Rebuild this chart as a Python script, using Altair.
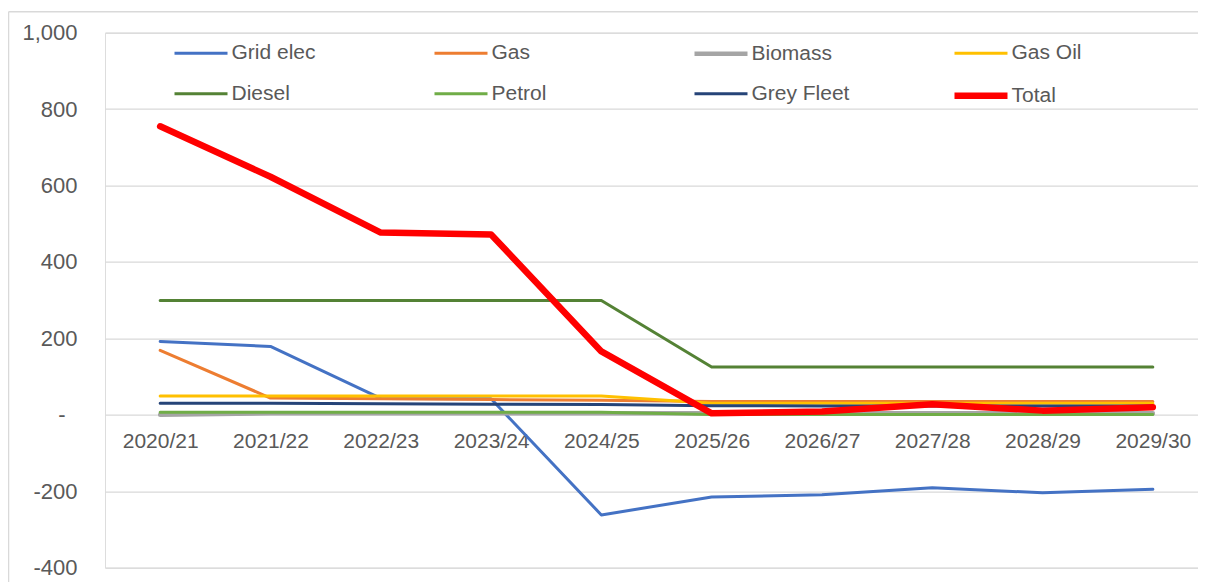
import altair as alt
import pandas as pd

years = ["2020/21", "2021/22", "2022/23", "2023/24", "2024/25",
         "2025/26", "2026/27", "2027/28", "2028/29", "2029/30"]

grid_elec = [192, 179, 43, 42, -262, -215, -209, -191, -204, -195]
gas = [169, 44, 42, 40, 38, 35, 35, 35, 35, 35]
biomass = [0, 4, 4, 4, 4, 4, 4, 4, 4, 4]
gas_oil = [49, 49, 49, 49, 49, 30, 30, 30, 30, 30]
diesel = [299, 299, 299, 299, 299, 125, 125, 125, 125, 125]
petrol = [7, 7, 7, 7, 7, 1, 1, 1, 1, 1]
grey_fleet = [30, 30, 29, 28, 27, 24, 23, 23, 23, 23]
total = [755, 623, 477, 472, 166, 4, 9, 28, 11, 20]

series_names = ["Grid elec", "Gas", "Biomass", "Gas Oil",
                "Diesel", "Petrol", "Grey Fleet", "Total"]
series_values = [grid_elec, gas, biomass, gas_oil, diesel, petrol, grey_fleet, total]
series_colors = ["#4472C4", "#ED7D31", "#A5A5A5", "#FFC000",
                 "#548235", "#70AD47", "#264478", "#FF0000"]
series_widths = [3, 3, 4.5, 3, 3, 3, 3, 6.5]

rows = []
for name, vals in zip(series_names, series_values):
    for y, v in zip(years, vals):
        rows.append({"year": y, "series": name, "value": v})
df = pd.DataFrame(rows)

FONT = "Liberation Sans"
TXT = "#595959"
GRID = "#D9D9D9"


def legend():
    return alt.Legend(title=None, orient="none", legendX=66, legendY=-10,
                      columns=4, direction="horizontal",
                      symbolType="stroke", symbolSize=2809,
                      labelFontSize=21, labelColor=TXT, labelFont=FONT,
                      labelOffset=0.5, columnPadding=91, rowPadding=-8,
                      gridAlign="all", padding=0)


lines = alt.Chart(df).mark_line(strokeCap="round", strokeJoin="round").encode(
    x=alt.X("year:N", sort=years,
            scale=alt.Scale(type="point", padding=0.5, range=[0, 1103]),
            axis=alt.Axis(title=None, domain=False, ticks=False, tickSize=0,
                          grid=False, labelAngle=0, labelFontSize=21,
                          labelColor=TXT, labelFont=FONT,
                          labelBaseline="alphabetic", labelPadding=33,
                          offset=-153.4)),
    y=alt.Y("value:Q",
            scale=alt.Scale(domain=[-400, 1000], nice=False, zero=False),
            axis=alt.Axis(title=None, values=[-400, -200, 0, 200, 400, 600, 800, 1000],
                          domain=False, ticks=False, tickSize=0,
                          gridColor=GRID, gridWidth=1.3,
                          labelFontSize=22, labelColor=TXT, labelFont=FONT,
                          labelPadding={"condition": {"test": "datum.value == 0", "value": 40},
                                        "value": 28},
                          labelExpr="datum.value == 0 ? '-' : (datum.value < 0 ? '-' + format(-datum.value, ',') : format(datum.value, ','))")),
    color=alt.Color("series:N",
                    scale=alt.Scale(domain=series_names, range=series_colors),
                    legend=legend()),
    strokeWidth=alt.StrokeWidth("series:N",
                                scale=alt.Scale(type="ordinal", domain=series_names,
                                                range=series_widths),
                                legend=legend()),
)

one = pd.DataFrame({"k": [0]})
border_top = alt.Chart(one).mark_rule(color=GRID, strokeWidth=1.5).encode(
    x=alt.value(-96.5), x2=alt.value(1110), y=alt.value(-21))
border_left = alt.Chart(one).mark_rule(color=GRID, strokeWidth=1.5).encode(
    x=alt.value(-96.5), y=alt.value(-21), y2=alt.value(600))

chart = alt.layer(border_top, border_left, lines).properties(
    width=1093, height=535,
    autosize=alt.AutoSizeParams(type="none"),
    padding={"left": 97, "top": 24.7, "right": 0, "bottom": 14},
).configure_view(stroke=None).configure(font=FONT)

chart.save("out.html", embed_options={"renderer": "svg", "actions": False})
